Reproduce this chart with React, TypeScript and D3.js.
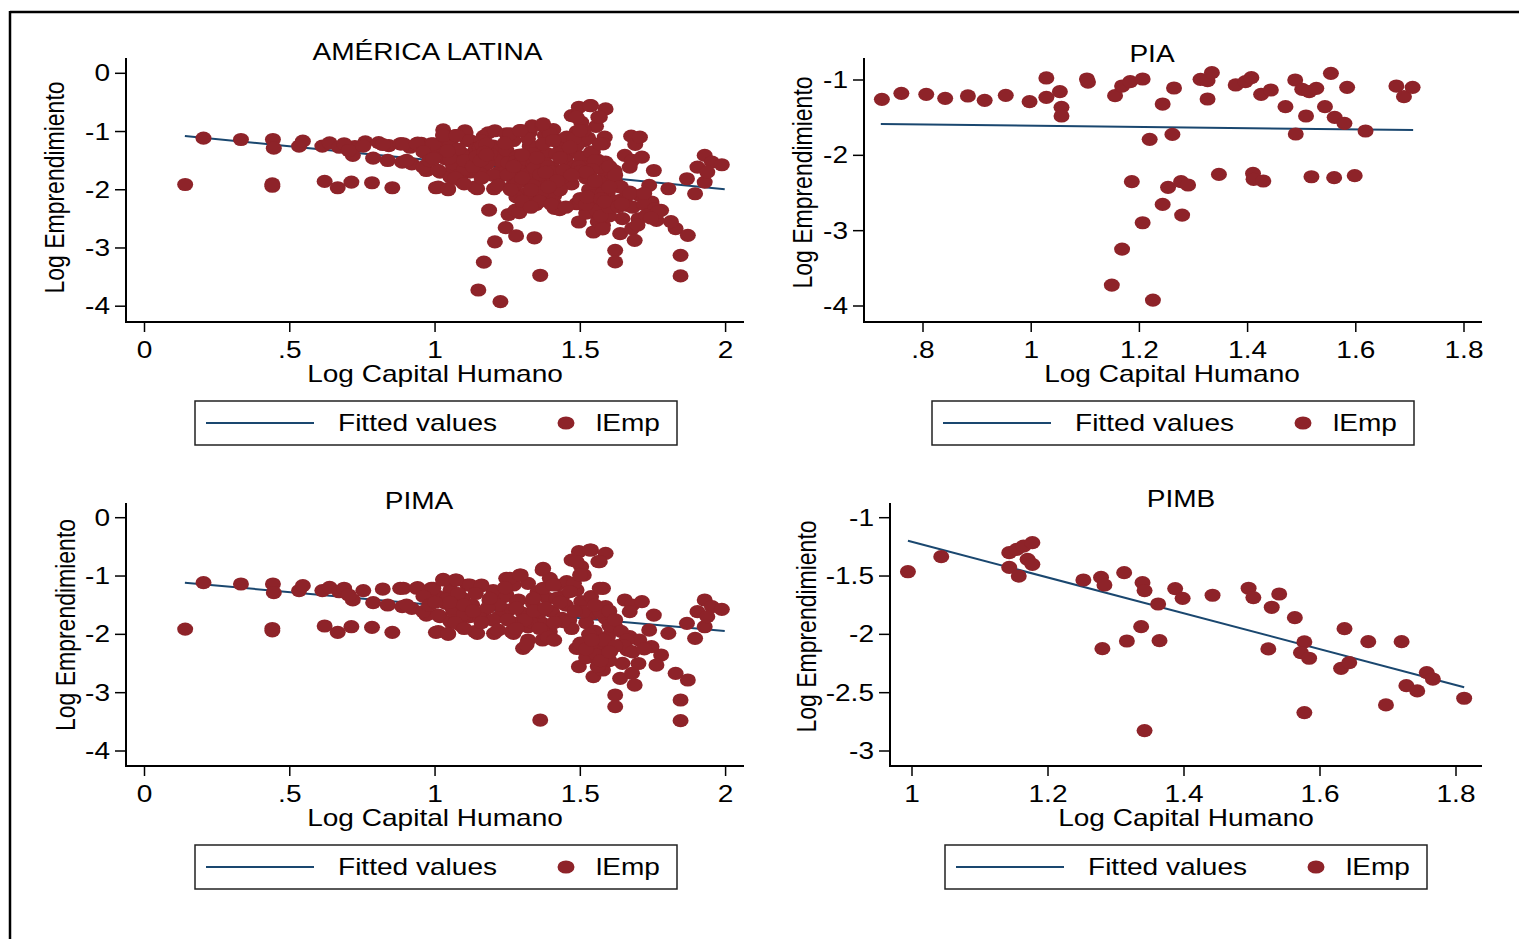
import React from "react";
import * as d3 from "d3";

// ---- data ----
// PIA
const piaX = [0.724, 0.76, 0.806, 0.841, 0.883, 0.914, 0.953, 0.997, 1.028, 1.028, 1.053, 1.056, 1.056, 1.103, 1.105,
  1.155, 1.168, 1.183, 1.206, 1.219, 1.186, 1.168, 1.149, 1.206, 1.225, 1.243, 1.243, 1.253, 1.261, 1.264, 1.277,
  1.279, 1.29, 1.313, 1.326, 1.334, 1.326, 1.347, 1.378, 1.396, 1.407, 1.41, 1.411, 1.429, 1.425, 1.443, 1.47,
  1.488, 1.489, 1.501, 1.508, 1.514, 1.527, 1.518, 1.543, 1.554, 1.561, 1.56, 1.579, 1.584, 1.598, 1.618, 1.675,
  1.689, 1.705];
const piaY = [-1.257, -1.177, -1.19, -1.243, -1.212, -1.27, -1.204, -1.288, -0.973, -1.23, -1.155, -1.363, -1.478, -0.987, -1.027,
  -1.208, -1.08, -1.022, -0.987, -1.788, -2.35, -3.244, -3.722, -2.895, -3.922, -1.319, -2.651, -2.425, -1.722, -1.106, -2.35,
  -2.793, -2.394, -0.991, -1.009, -0.903, -1.252, -2.253, -1.066, -1.022, -0.969, -2.24, -2.319, -2.341, -1.19, -1.133, -1.354,
  -1.0, -1.717, -1.124, -1.478, -1.155, -1.111, -2.284, -1.354, -0.911, -1.496, -2.297, -1.575, -1.097, -2.27, -1.677, -1.08,
  -1.221, -1.097];

// PIMA
const pimaX = [0.14, 0.203, 0.332, 0.442, 0.445, 0.44, 0.44, 0.532, 0.545, 0.62, 0.612, 0.637, 0.67, 0.687, 0.717, 0.703,
  0.665, 0.712, 0.753, 0.783, 0.787, 0.82, 0.853, 0.88, 0.837, 0.887, 0.92, 0.94, 0.97, 1.003, 1.045,
  0.987, 1.012, 1.028, 1.037, 1.053, 1.07, 1.078, 1.095, 1.112, 1.12, 1.128, 1.153, 1.162, 1.187, 1.145, 1.203,
  1.017, 1.053, 1.087,
  1.245, 1.295, 1.27, 1.32, 1.37, 1.395, 1.353, 1.42, 1.237, 1.287, 1.337, 1.387, 1.253, 1.303, 1.353, 1.403,
  1.22, 1.27, 1.32, 1.37, 1.395, 1.27, 1.32, 1.303, 1.37, 1.437, 1.437, 1.453, 1.487, 1.503, 1.462,
  1.47, 1.495, 1.537, 1.587, 1.562, 1.503, 1.512, 1.478, 1.578, 1.537, 1.587, 1.545, 1.587,
  1.487, 1.495, 1.528, 1.537, 1.545, 1.578, 1.57, 1.595, 1.603, 1.62, 1.637, 1.645, 1.637, 1.678, 1.687, 1.62,
  1.62, 1.662, 1.67, 1.653, 1.678, 1.712, 1.67, 1.703, 1.737, 1.753, 1.745, 1.778, 1.762, 1.803, 1.828, 1.87,
  1.845, 1.845, 1.362, 1.867, 1.895, 1.903, 1.928, 1.953, 1.987, 1.928, 1.937,
  1.2, 1.22, 1.18, 1.45, 1.47, 1.52, 1.55, 1.6, 1.56, 1.52, 1.6, 1.58,
  0.891, 0.937, 0.994, 1.028, 1.074, 1.12, 1.16, 0.902, 0.959, 1.011, 1.063, 1.109, 1.155, 1.011, 1.045, 1.137,
  1.189, 1.2, 1.217, 1.258, 1.292, 1.246, 1.281, 1.275, 1.263, 1.315, 1.327, 1.338, 1.372, 1.372, 1.361, 1.384,
  1.407, 1.418, 1.441, 1.464, 1.487, 1.533, 1.567, 1.499, 1.51, 1.567, 1.567, 1.499, 1.556,
  0.96, 0.98, 1.04, 1.06, 1.08, 1.1, 1.14, 1.07, 1.1, 1.16, 1.24, 1.28, 1.31, 1.34, 1.36, 1.38, 1.41, 1.43,
  1.25, 1.28, 1.39, 1.41, 1.48, 1.55, 1.6, 1.62, 1.64, 1.66, 1.58, 1.65, 1.56, 1.68, 1.7, 1.72, 1.5, 1.53,
  1.52, 1.57, 1.62, 1.6, 1.54, 1.05, 1.1, 1.13, 1.0];
const pimaY = [-1.91, -1.114, -1.137, -1.137, -1.286, -1.9, -1.94, -1.25, -1.166, -1.857, -1.25, -1.194, -1.27, -1.21, -1.41, -1.326,
  -1.966, -1.869, -1.25, -1.88, -1.457, -1.223, -1.966, -1.211, -1.497, -1.526, -1.554, -1.2, -1.669, -1.966, -2.0,
  -1.211, -1.354, -1.057, -1.469, -1.24, -1.069, -1.583, -1.383, -1.154, -1.697, -1.497, -1.183, -1.64, -1.411, -1.983, -1.983,
  -1.697, -1.783, -1.84,
  -1.04, -0.983, -1.154, -1.126, -0.897, -1.04, -1.269, -1.154, -1.354, -1.411, -1.469, -1.383, -1.583, -1.64, -1.697, -1.611,
  -1.697, -1.811, -1.869, -1.811, -1.954, -1.983, -2.097, -2.24, -2.097, -1.726, -1.354, -1.097, -1.24, -1.44, -1.754,
  -0.726, -0.583, -0.554, -0.611, -0.754, -0.84, -0.983, -1.126, -1.211, -1.354, -1.526, -1.64, -1.726,
  -2.24, -2.554, -2.126, -2.383, -2.726, -2.611, -2.211, -2.04, -2.297, -1.869, -2.183, -2.497, -2.754, -2.669, -2.869, -3.04,
  -3.24, -2.269, -2.04, -1.411, -1.497, -1.44, -1.611, -2.097, -1.926, -1.669, -2.211, -2.354, -2.526, -1.983, -2.669, -2.783,
  -3.126, -3.48, -3.469, -1.811, -2.069, -1.611, -1.411, -1.526, -1.571, -1.869, -1.697,
  -1.25, -1.5, -1.55, -1.5, -1.9, -1.8, -1.95, -1.85, -2.2, -2.4, -2.45, -2.3,
  -1.21, -1.21, -1.21, -1.068, -1.068, -1.154, -1.154, -1.497, -1.611, -1.668, -1.611, -1.668, -1.725, -1.954, -1.982, -1.954,
  -1.382, -1.754, -1.925, -1.04, -0.983, -1.325, -1.44, -1.81, -1.954, -2.18, -1.783, -1.382, -0.868, -1.21, -1.611, -2.011,
  -1.154, -1.382, -1.783, -1.268, -0.754, -0.554, -0.754, -0.983, -1.611, -1.21, -1.611, -2.239, -2.354,
  -1.35, -1.5, -1.4, -1.55, -1.3, -1.65, -1.3, -1.8, -1.9, -1.8, -1.2, -1.55, -1.75, -1.6, -1.9, -1.55, -1.8, -1.45,
  -1.75, -1.9, -2.05, -2.1, -1.6, -1.5, -1.6, -1.75, -1.95, -2.1, -2.1, -2.2, -2.55, -2.3, -2.5, -2.25, -2.15, -2.0,
  -2.25, -2.45, -2.2, -2.3, -2.1, -1.45, -1.5, -1.6, -1.45];

// PIMB
const pimbX = [0.994, 1.043, 1.143, 1.154, 1.164, 1.177, 1.143, 1.157, 1.17, 1.177, 1.252, 1.278, 1.283, 1.312, 1.339,
  1.342, 1.362, 1.387, 1.398, 1.442, 1.495, 1.502, 1.54, 1.529, 1.563, 1.337, 1.316, 1.28, 1.364, 1.524, 1.577,
  1.572, 1.584, 1.636, 1.671, 1.72, 1.631, 1.643, 1.757, 1.766, 1.727, 1.743, 1.697, 1.812, 1.577, 1.342];
const pimbY = [-1.463, -1.334, -1.3, -1.271, -1.243, -1.214, -1.426, -1.5, -1.357, -1.4, -1.534, -1.512, -1.577, -1.471, -1.557,
  -1.625, -1.74, -1.608, -1.691, -1.665, -1.605, -1.685, -1.654, -1.768, -1.857, -1.934, -2.057, -2.123, -2.054, -2.125, -2.065,
  -2.157, -2.205, -1.951, -2.063, -2.063, -2.291, -2.243, -2.328, -2.383, -2.44, -2.485, -2.605, -2.548, -2.671, -2.825];

// points seen only in the América Latina panel
const otherX = [1.27, 1.3, 1.33, 1.36, 1.4, 1.43, 1.3, 1.26, 1.38, 1.42, 1.35, 1.3, 1.45, 1.52, 1.55, 1.6, 1.47, 1.33, 1.39];
const otherY = [-1.6, -1.8, -2.0, -2.2, -2.25, -2.0, -2.2, -2.0, -1.7, -1.85, -1.45, -1.4, -2.3, -1.7, -1.85, -1.95, -1.75, -2.3, -1.95];

// América Latina = all groups
const alX = [...piaX, ...pimaX, ...pimbX, ...otherX];
const alY = [...piaY, ...pimaY, ...pimbY, ...otherY];

// fitted values (line end points)
const fitAlX = [0.139, 1.997];
const fitAlY = [-1.077, -1.993];
const fitPiaX = [0.722, 1.706];
const fitPiaY = [-1.584, -1.664];
const fitPimaX = [0.139, 1.997];
const fitPimaY = [-1.115, -1.943];
const fitPimbX = [0.994, 1.812];
const fitPimbY = [-1.197, -2.453];

// ticks
const ticksX02 = [0, 0.5, 1, 1.5, 2];
const labelsX02 = ["0", ".5", "1", "1.5", "2"];
const ticksY04 = [0, -1, -2, -3, -4];
const labelsY04 = ["0", "-1", "-2", "-3", "-4"];
const ticksXPia = [0.8, 1, 1.2, 1.4, 1.6, 1.8];
const labelsXPia = [".8", "1", "1.2", "1.4", "1.6", "1.8"];
const ticksYPia = [-1, -2, -3, -4];
const labelsYPia = ["-1", "-2", "-3", "-4"];
const ticksXPimb = [1, 1.2, 1.4, 1.6, 1.8];
const labelsXPimb = ["1", "1.2", "1.4", "1.6", "1.8"];
const ticksYPimb = [-1, -1.5, -2, -2.5, -3];
const labelsYPimb = ["-1", "-1.5", "-2", "-2.5", "-3"];

const SX = 1.22; // picture is stretched sideways
const DOT = "#8e2329";
const FIT = "#1a476f";
const FONT = "'Liberation Sans', Arial, Helvetica, sans-serif";
const FS = 23;

const panels = [
  {
    title: "AMÉRICA LATINA", xs: alX, ys: alY, fx: fitAlX, fy: fitAlY,
    tx: ticksX02, tlx: labelsX02, ty: ticksY04, tly: labelsY04,
    xDom: [0, 2], xRange: [144.5, 725.6], yDom: [0, -4], yRange: [73.3, 306.2],
    left: 126, right: 744, top: 58, bottom: 322,
    titleX: 427.5, titleY: 52, yTitleX: 54.5, yTitleY: 187.5, xTitleX: 435, legX: 195,
  },
  {
    title: "PIA", xs: piaX, ys: piaY, fx: fitPiaX, fy: fitPiaY,
    tx: ticksXPia, tlx: labelsXPia, ty: ticksYPia, tly: labelsYPia,
    xDom: [0.8, 1.8], xRange: [923, 1464], yDom: [-1, -4], yRange: [80, 306],
    left: 864, right: 1482, top: 58, bottom: 322,
    titleX: 1152, titleY: 54, yTitleX: 802, yTitleY: 182.5, xTitleX: 1172, legX: 932,
  },
  {
    title: "PIMA", xs: pimaX, ys: pimaY, fx: fitPimaX, fy: fitPimaY,
    tx: ticksX02, tlx: labelsX02, ty: ticksY04, tly: labelsY04,
    xDom: [0, 2], xRange: [144.5, 725.6], yDom: [0, -4], yRange: [517.7, 751],
    left: 126, right: 744, top: 503, bottom: 766,
    titleX: 419, titleY: 500.5, yTitleX: 65, yTitleY: 625, xTitleX: 435, legX: 195,
  },
  {
    title: "PIMB", xs: pimbX, ys: pimbY, fx: fitPimbX, fy: fitPimbY,
    tx: ticksXPimb, tlx: labelsXPimb, ty: ticksYPimb, tly: labelsYPimb,
    xDom: [1, 1.8], xRange: [912, 1456], yDom: [-1, -3], yRange: [517.7, 751],
    left: 890, right: 1482, top: 503, bottom: 766,
    titleX: 1181, titleY: 499, yTitleX: 806.5, yTitleY: 626.5, xTitleX: 1186, legX: 945,
  },
];

function Txt({ x, y, children, anchor = "middle", size = FS, rot = false }: any) {
  const tf = `translate(${x},${y}) scale(${SX},1)` + (rot ? " rotate(-90)" : "");
  return (
    <text transform={tf} textAnchor={anchor} dominantBaseline="central" fontSize={size} fontFamily={FONT} fill="#000">
      {children}
    </text>
  );
}

function Panel({ p }: any) {
  const x = d3.scaleLinear().domain(p.xDom).range(p.xRange);
  const y = d3.scaleLinear().domain(p.yDom).range(p.yRange);
  const fitLine = d3.line<number>().x((d) => x(d)).y((d, i) => y(p.fy[i]));
  const legY = p.bottom + 101;
  return (
    <g>
      <Txt x={p.titleX} y={p.titleY}>{p.title}</Txt>
      {/* fitted line first, markers on top */}
      <path d={fitLine(p.fx) || ""} stroke={FIT} strokeWidth={2} fill="none" />
      {p.xs.map((v: number, i: number) => (
        <ellipse key={i} cx={x(v)} cy={y(p.ys[i])} rx={8} ry={6.6} fill={DOT} />
      ))}
      {/* axes */}
      <line x1={p.left} x2={p.left} y1={p.top} y2={p.bottom + 1} stroke="#000" strokeWidth={2} />
      <line x1={p.left - 1} x2={p.right} y1={p.bottom} y2={p.bottom} stroke="#000" strokeWidth={2} />
      {p.ty.map((t: number, i: number) => (
        <g key={"y" + i}>
          <line x1={p.left - 11} x2={p.left} y1={y(t)} y2={y(t)} stroke="#000" strokeWidth={1.5} />
          <Txt x={p.left - 16} y={y(t)} anchor="end">{p.tly[i]}</Txt>
        </g>
      ))}
      {p.tx.map((t: number, i: number) => (
        <g key={"x" + i}>
          <line x1={x(t)} x2={x(t)} y1={p.bottom} y2={p.bottom + 10} stroke="#000" strokeWidth={1.5} />
          <Txt x={x(t)} y={p.bottom + 28}>{p.tlx[i]}</Txt>
        </g>
      ))}
      <Txt x={p.xTitleX} y={p.bottom + 52}>Log Capital Humano</Txt>
      <Txt x={p.yTitleX} y={p.yTitleY} rot>Log Emprendimiento</Txt>
      {/* legend */}
      <rect x={p.legX} y={legY - 22} width={482} height={44} fill="#fff" stroke="#222" strokeWidth={1.5} />
      <line x1={p.legX + 11} x2={p.legX + 119} y1={legY} y2={legY} stroke={FIT} strokeWidth={2} />
      <Txt x={p.legX + 143} y={legY} anchor="start">Fitted values</Txt>
      <ellipse cx={p.legX + 371} cy={legY} rx={8.5} ry={6.6} fill={DOT} />
      <Txt x={p.legX + 401} y={legY} anchor="start">lEmp</Txt>
    </g>
  );
}

export default function App() {
  return (
    <svg width={1519} height={939} style={{ position: "absolute", left: 0, top: 0, background: "#fff" }}>
      <rect x={0} y={0} width={1519} height={939} fill="#fff" />
      <line x1={10} x2={1519} y1={12} y2={12} stroke="#000" strokeWidth={2.5} />
      <line x1={10} x2={10} y1={11} y2={939} stroke="#000" strokeWidth={2.5} />
      {panels.map((p, i) => (
        <Panel key={i} p={p} />
      ))}
    </svg>
  );
}
